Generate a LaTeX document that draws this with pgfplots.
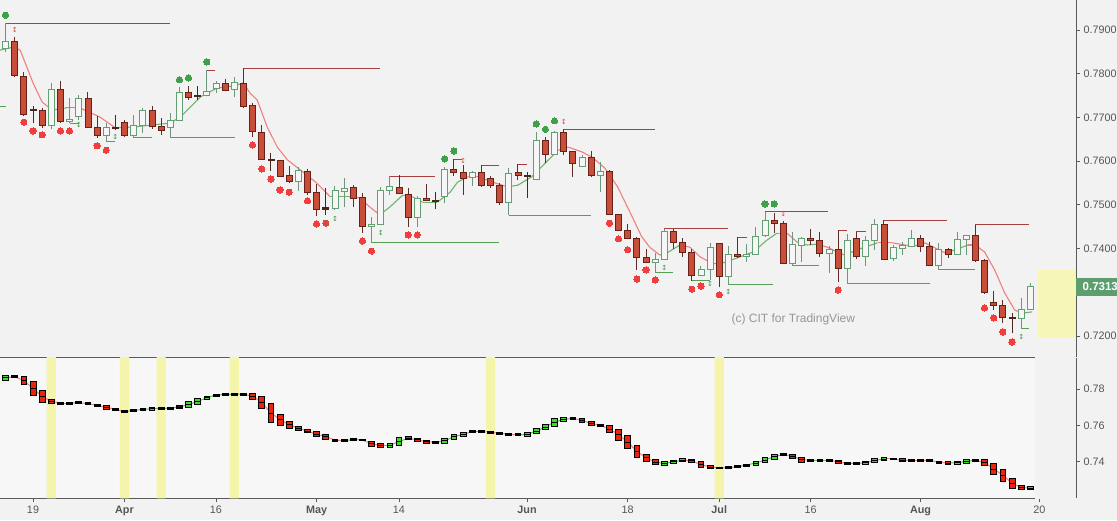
\documentclass[border=0pt]{standalone}
\usepackage{pgfplots}
\pgfplotsset{compat=1.18}
\usepackage{pgfplotstable}
\usepackage{fontspec}
\setmainfont{Liberation Sans}
\newfontfamily\dejavu{DejaVu Sans}

\definecolor{bgM}{RGB}{242,242,242}
\definecolor{bgB}{RGB}{247,247,247}
\definecolor{rfl}{RGB}{200,78,58}
\definecolor{rbd}{RGB}{105,32,22}
\definecolor{rwk}{RGB}{95,45,38}
\definecolor{wfl}{RGB}{246,246,246}
\definecolor{wbd}{RGB}{100,158,115}
\definecolor{wwk}{RGB}{110,150,122}
\definecolor{dk}{RGB}{75,38,32}
\definecolor{mar}{RGB}{240,128,128}
\definecolor{mag}{RGB}{110,180,110}
\definecolor{res}{RGB}{165,65,65}
\definecolor{sup}{RGB}{85,160,85}
\definecolor{rdot}{RGB}{238,62,62}
\definecolor{gdot}{RGB}{62,160,72}
\definecolor{ybox}{RGB}{246,246,182}
\definecolor{yband}{RGB}{244,244,170}
\definecolor{bred}{RGB}{236,36,14}
\definecolor{bgrn}{RGB}{60,220,40}
\definecolor{bblk}{RGB}{25,25,25}
\definecolor{axc}{RGB}{90,90,90}
\definecolor{tkc}{RGB}{85,85,85}
\definecolor{wmc}{RGB}{150,150,150}
\definecolor{pgr}{RGB}{92,158,110}
\definecolor{rmk}{RGB}{220,70,70}
\definecolor{gmk}{RGB}{60,150,70}

\pgfdeclareplotmark{cbody}{%
  \pgfmathsetmacro\bh{max(\hh,0.6)}%
  \pgfmathsetmacro\bhh{2*\bh}%
  \pgfpathrectangle{\pgfqpoint{-3pt}{-\bh pt}}{\pgfqpoint{6pt}{\bhh pt}}%
  \pgfusepathqfillstroke}
\pgfdeclareplotmark{bbox}{%
  \pgfmathsetmacro\bh{max(\hh,0.9)}%
  \pgfmathsetmacro\bhh{2*\bh}%
  \pgfpathrectangle{\pgfqpoint{-2.9pt}{-\bh pt}}{\pgfqpoint{5.8pt}{\bhh pt}}%
  \pgfusepathqfillstroke
  \pgfpathmoveto{\pgfqpoint{-2.9pt}{0pt}}\pgfpathlineto{\pgfqpoint{2.9pt}{0pt}}%
  \pgfusepathqstroke}

% ---------- main candles: i open high low close ----------
\pgfplotstableread{
i o h l c
-2 0.7875 0.7883 0.7793 0.7795
-1 0.7795 0.7805 0.7703 0.7707
1 0.7717 0.7721 0.7675 0.7681
3 0.7764 0.7783 0.7688 0.7691
6 0.7744 0.7757 0.7675 0.7677
7 0.7677 0.7703 0.7654 0.7658
10 0.7688 0.7694 0.7656 0.7658
13 0.7715 0.7726 0.7674 0.7679
14 0.7680 0.7698 0.7660 0.7670
17 0.7757 0.7772 0.7740 0.7747
21 0.7778 0.7789 0.7760 0.7763
23 0.7779 0.7813 0.7721 0.7726
24 0.7728 0.7733 0.7655 0.7667
25 0.7666 0.7683 0.7603 0.7604
27 0.7602 0.7603 0.7564 0.7566
28 0.7567 0.7589 0.7549 0.7553
30 0.7577 0.7581 0.7522 0.7529
31 0.7529 0.7548 0.7475 0.7490
35 0.7541 0.7545 0.7496 0.7515
36 0.7516 0.7526 0.7436 0.7451
40 0.7540 0.7568 0.7524 0.7525
41 0.7524 0.7538 0.7450 0.7471
43 0.7515 0.7548 0.7508 0.7510
46 0.7580 0.7604 0.7566 0.7574
47 0.7574 0.7591 0.7522 0.7560
49 0.7574 0.7590 0.7541 0.7544
50 0.7560 0.7565 0.7539 0.7544
51 0.7545 0.7549 0.7500 0.7505
53 0.7574 0.7593 0.7557 0.7567
56 0.7648 0.7655 0.7595 0.7616
58 0.7666 0.7673 0.7614 0.7622
59 0.7622 0.7623 0.7563 0.7595
61 0.7609 0.7624 0.7563 0.7567
63 0.7577 0.7580 0.7476 0.7478
64 0.7478 0.7480 0.7441 0.7442
65 0.7442 0.7456 0.7421 0.7423
66 0.7423 0.7426 0.7351 0.7380
67 0.7380 0.7400 0.7366 0.7368
70 0.7440 0.7444 0.7400 0.7413
71 0.7415 0.7423 0.7381 0.7390
72 0.7392 0.7400 0.7326 0.7338
75 0.7412 0.7413 0.7313 0.7337
77 0.7387 0.7426 0.7378 0.7382
81 0.7464 0.7481 0.7435 0.7458
82 0.7458 0.7464 0.7364 0.7366
85 0.7423 0.7444 0.7408 0.7418
86 0.7418 0.7438 0.7381 0.7389
88 0.7398 0.7442 0.7324 0.7355
90 0.7423 0.7438 0.7375 0.7383
93 0.7455 0.7465 0.7374 0.7376
97 0.7423 0.7430 0.7393 0.7404
98 0.7404 0.7415 0.7360 0.7362
100 0.7398 0.7402 0.7378 0.7387
103 0.7429 0.7454 0.7370 0.7374
104 0.7374 0.7375 0.7297 0.7300
105 0.7277 0.7303 0.7259 0.7270
106 0.7270 0.7282 0.7229 0.7243
}\tR
\pgfplotstableread{
i o h l c
-3 0.7858 0.7915 0.7850 0.7873
2 0.7681 0.7778 0.7673 0.7764
4 0.7690 0.7744 0.7687 0.7696
5 0.7702 0.7751 0.7694 0.7744
8 0.7658 0.7688 0.7644 0.7677
11 0.7658 0.7705 0.7653 0.7682
12 0.7681 0.7721 0.7664 0.7715
15 0.7677 0.7709 0.7653 0.7693
16 0.7693 0.7769 0.7691 0.7757
19 0.7750 0.7808 0.7748 0.7760
20 0.7767 0.7783 0.7755 0.7778
22 0.7763 0.7793 0.7746 0.7779
29 0.7553 0.7586 0.7532 0.7578
33 0.7492 0.7543 0.7488 0.7532
34 0.7531 0.7562 0.7496 0.7538
37 0.7451 0.7473 0.7413 0.7456
38 0.7456 0.7541 0.7455 0.7532
39 0.7532 0.7566 0.7522 0.7543
42 0.7471 0.7520 0.7450 0.7515
45 0.7519 0.7587 0.7505 0.7580
48 0.7562 0.7578 0.7543 0.7574
52 0.7505 0.7584 0.7476 0.7573
55 0.7558 0.7666 0.7556 0.7648
57 0.7616 0.7669 0.7614 0.7666
60 0.7589 0.7614 0.7587 0.7609
62 0.7567 0.7599 0.7530 0.7577
68 0.7368 0.7389 0.7346 0.7376
69 0.7375 0.7445 0.7374 0.7440
73 0.7338 0.7360 0.7336 0.7352
74 0.7352 0.7412 0.7328 0.7403
76 0.7337 0.7406 0.7317 0.7387
78 0.7382 0.7410 0.7370 0.7387
79 0.7387 0.7449 0.7386 0.7427
80 0.7430 0.7484 0.7427 0.7464
83 0.7366 0.7438 0.7362 0.7410
84 0.7408 0.7426 0.7370 0.7423
87 0.7389 0.7405 0.7344 0.7398
89 0.7355 0.7433 0.7319 0.7418
91 0.7383 0.7429 0.7361 0.7418
92 0.7418 0.7467 0.7397 0.7455
94 0.7377 0.7408 0.7372 0.7403
95 0.7400 0.7416 0.7385 0.7406
96 0.7406 0.7442 0.7405 0.7423
99 0.7362 0.7412 0.7351 0.7398
101 0.7387 0.7438 0.7385 0.7421
102 0.7421 0.7432 0.7385 0.7429
108 0.7240 0.7287 0.7216 0.7261
109 0.7261 0.7322 0.7260 0.7313
}\tW
\pgfplotstableread{
i o h l c
0 0.7719 0.7726 0.7688 0.7717
9 0.7676 0.7705 0.7671 0.7677
18 0.7750 0.7772 0.7740 0.7749
26 0.7603 0.7619 0.7577 0.7603
32 0.7490 0.7538 0.7477 0.7493
44 0.7510 0.7530 0.7490 0.7509
54 0.7566 0.7575 0.7516 0.7565
107 0.7243 0.7253 0.7206 0.7241
}\tD

% ---------- smoothed line on price panel ----------
\pgfplotstableread{
i v m
-3.6 0.7854 1
-2.1 0.7861 0
-1.4 0.7854 0
0 0.7779 0
1 0.7735 0
2.1 0.7717 1
3.7 0.7722 1
5.1 0.7722 0
7.3 0.7701 0
9 0.7676 0
10.9 0.7678 1
15 0.7687 1
16.1 0.7701 1
18.3 0.7747 1
20.1 0.7767 1
21.9 0.7772 1
23 0.7779 0
23.7 0.7756 0
24.5 0.7740 0
25.6 0.7678 0
26.7 0.7632 0
27.8 0.7603 0
29.2 0.7580 0
31 0.7550 0
32.5 0.7518 1
34.6 0.7518 0
35.7 0.7516 0
36.8 0.7495 0
37.9 0.7477 1
39 0.7495 1
40.4 0.7522 0
41.5 0.7518 0
42.6 0.7506 1
44.2 0.7506 1
45.6 0.7529 1
46.4 0.7552 1
47.5 0.7564 0
48.6 0.7564 0
50.5 0.7550 0
51.9 0.7541 1
53 0.7545 1
54.5 0.7564 1
56 0.7596 1
57.4 0.7625 0
58.5 0.7632 0
60 0.7621 0
61.1 0.7609 0
62.5 0.7584 0
63.9 0.7541 0
65.5 0.7472 0
66.5 0.7428 0
67.4 0.7403 0
68.5 0.7385 1
69.3 0.7390 1
70.7 0.7408 0
71.8 0.7403 0
72.9 0.7381 0
74.3 0.7365 1
75.4 0.7367 1
76.9 0.7378 1
78.7 0.7392 1
80.2 0.7419 1
81.3 0.7435 0
82.4 0.7435 0
83.5 0.7415 1
84.6 0.7408 1
85.7 0.7410 0
86.8 0.7403 0
87.9 0.7392 0
88.7 0.7385 1
90.6 0.7401 1
92.3 0.7413 0
93.9 0.7413 0
95.3 0.7408 0
96.4 0.7406 0
97.5 0.7413 0
98.6 0.7401 0
99.7 0.7390 1
100.8 0.7397 1
102.2 0.7408 0
103 0.7408 0
104 0.7392 0
105.1 0.7351 0
106.2 0.7298 0
107.3 0.7259 0
108.1 0.7252 1
109.2 0.7255 1
}\tMA

% ---------- resistance / support levels ----------
\pgfplotstableread{
x y
-3 0.7915
15.0 0.7915
nan nan
19 0.7808
19.9 0.7808
nan nan
23 0.7813
37.9 0.7813
nan nan
39 0.7566
43.9 0.7566
nan nan
46 0.7604
46.9 0.7604
nan nan
49 0.7590
50.9 0.7590
nan nan
53 0.7593
54.0 0.7593
nan nan
58 0.7673
68.0 0.7673
nan nan
69 0.7445
76.0 0.7445
nan nan
77 0.7426
78.0 0.7426
nan nan
80 0.7484
86.9 0.7484
nan nan
88 0.7442
89.0 0.7442
nan nan
90 0.7438
91.0 0.7438
nan nan
93 0.7465
99.9 0.7465
nan nan
103 0.7454
108.9 0.7454
}\tRes
\pgfplotstableread{
x y
-3.7 0.7724
-3 0.7724
nan nan
4 0.7687
5 0.7687
nan nan
8 0.7644
9 0.7644
nan nan
11 0.7653
13 0.7653
nan nan
15 0.7653
22.1 0.7653
nan nan
37 0.7413
50.9 0.7413
nan nan
52 0.7476
61.0 0.7476
nan nan
68 0.7346
70.0 0.7346
nan nan
72 0.7326
74.0 0.7326
nan nan
76 0.7317
80.9 0.7317
nan nan
83 0.7362
85.9 0.7362
nan nan
89 0.7319
98.0 0.7319
nan nan
99 0.7351
102.9 0.7351
nan nan
108 0.7216
108.9 0.7216
}\tSup

\pgfplotstableread{
i v
-1 0.7689
0 0.7669
1 0.7660
3 0.7669
4 0.7669
7 0.7635
8 0.7625
24 0.7637
25 0.7582
26 0.7559
27 0.7534
28 0.7529
30 0.7509
31 0.7456
32 0.7458
36 0.7417
37 0.7394
41 0.7431
42 0.7431
63 0.7458
64 0.7422
65 0.7397
66 0.7330
67 0.7351
68 0.7328
72 0.7307
73 0.7314
75 0.7294
88 0.7305
104 0.7264
105 0.7241
106 0.7209
107 0.7186
}\tRdot
\pgfplotstableread{
i v
-3 0.7934
16 0.7786
17 0.7790
19 0.7827
45 0.7605
46 0.7623
55 0.7685
56 0.7673
57 0.7692
80 0.7502
81 0.7502
}\tGdot
\pgfplotstableread{
i v
-2 0.7900
47 0.7600
58 0.7690
82 0.7479
}\tRmk
\pgfplotstableread{
i v
5 0.7683
9 0.7655
32 0.7459
33 0.7468
38 0.7435
69 0.7355
74 0.7319
76 0.7300
108 0.7198
}\tGmk

% ---------- lower panel ----------
\pgfplotstableread{
i v m
-3 0.7862 1
-2 0.7868 0
-1 0.7846 0
0 0.7804 0
1 0.7758 0
2 0.7732 0
3 0.7723 0
4 0.7723 1
5 0.7725 0
6 0.7719 0
7 0.7710 0
8 0.7698 0
9 0.7688 0
10 0.7676 1
11 0.7682 1
12 0.7688 1
13 0.7691 1
14 0.7693 1
15 0.7695 1
16 0.7701 1
17 0.7715 1
18 0.7731 1
19 0.7752 1
20 0.7767 1
21 0.7770 1
22 0.7771 1
23 0.7772 0
24 0.7760 0
25 0.7727 0
26 0.7668 0
27 0.7632 0
28 0.7603 0
29 0.7584 0
30 0.7568 0
31 0.7551 0
32 0.7538 0
33 0.7519 0
34 0.7515 1
35 0.7522 0
36 0.7520 0
37 0.7498 0
38 0.7490 0
39 0.7490 1
40 0.7511 1
41 0.7529 0
42 0.7520 0
43 0.7510 0
44 0.7507 1
45 0.7515 1
46 0.7538 1
47 0.7550 1
48 0.7566 1
49 0.7566 0
50 0.7562 0
51 0.7557 0
52 0.7551 0
53 0.7548 1
54 0.7550 1
55 0.7569 1
56 0.7591 1
57 0.7618 1
58 0.7633 1
59 0.7638 0
60 0.7628 0
61 0.7610 0
62 0.7600 0
63 0.7580 0
64 0.7549 0
65 0.7508 0
66 0.7457 0
67 0.7421 0
68 0.7398 0
69 0.7391 1
70 0.7400 1
71 0.7408 0
72 0.7405 0
73 0.7384 0
74 0.7371 0
75 0.7366 1
76 0.7367 1
77 0.7372 1
78 0.7382 1
79 0.7393 1
80 0.7409 1
81 0.7428 1
82 0.7440 0
83 0.7430 0
84 0.7412 0
85 0.7407 1
86 0.7408 1
87 0.7408 0
88 0.7399 0
89 0.7391 0
90 0.7390 1
91 0.7394 1
92 0.7407 1
93 0.7415 0
94 0.7415 0
95 0.7408 0
96 0.7408 0
97 0.7408 0
98 0.7408 0
99 0.7397 0
100 0.7393 1
101 0.7394 1
102 0.7402 1
103 0.7408 0
104 0.7395 0
105 0.7360 0
106 0.7326 0
107 0.7281 0
108 0.7259 0
109 0.7254 1
}\tL
\pgfplotstableread{
i v h
-1 0.7846 0.0046
0 0.7804 0.0073
1 0.7758 0.0066
2 0.7732 0.0022
6 0.7719 0.0010
7 0.7710 0.0015
8 0.7698 0.0020
9 0.7688 0.0011
24 0.7760 0.0033
25 0.7727 0.0062
26 0.7668 0.0108
27 0.7632 0.0061
28 0.7603 0.0037
29 0.7584 0.0025
30 0.7568 0.0017
31 0.7551 0.0028
32 0.7538 0.0026
33 0.7519 0.0012
37 0.7498 0.0029
38 0.7490 0.0018
41 0.7529 0.0018
42 0.7520 0.0015
43 0.7510 0.0018
50 0.7562 0.0010
51 0.7557 0.0013
60 0.7628 0.0022
61 0.7610 0.0020
62 0.7600 0.0015
63 0.7580 0.0035
64 0.7549 0.0059
65 0.7508 0.0073
66 0.7457 0.0066
67 0.7421 0.0042
68 0.7398 0.0031
72 0.7405 0.0018
73 0.7384 0.0031
74 0.7371 0.0017
82 0.7440 0.0013
83 0.7430 0.0024
84 0.7412 0.0028
88 0.7399 0.0017
89 0.7391 0.0011
95 0.7408 0.0017
100 0.7393 0.0015
104 0.7395 0.0035
105 0.7360 0.0059
106 0.7326 0.0068
107 0.7281 0.0055
108 0.7259 0.0018
}\bR
\pgfplotstableread{
i v h
-3 0.7862 0.0024
13 0.7691 0.0013
17 0.7715 0.0031
18 0.7731 0.0035
19 0.7752 0.0018
39 0.7490 0.0022
40 0.7511 0.0040
45 0.7515 0.0028
46 0.7538 0.0026
47 0.7550 0.0024
48 0.7566 0.0011
54 0.7550 0.0017
55 0.7569 0.0029
56 0.7591 0.0031
57 0.7618 0.0042
58 0.7633 0.0018
69 0.7391 0.0018
70 0.7400 0.0018
71 0.7408 0.0015
79 0.7393 0.0022
80 0.7409 0.0026
81 0.7428 0.0028
91 0.7394 0.0018
92 0.7407 0.0020
93 0.7415 0.0013
101 0.7394 0.0018
102 0.7402 0.0018
109 0.7254 0.0017
}\bG
\pgfplotstableread{
i v h
-2 0.7868 0.0010
3 0.7723 0.0010
4 0.7723 0.0010
5 0.7725 0.0010
10 0.7676 0.0010
11 0.7682 0.0010
12 0.7688 0.0010
14 0.7693 0.0010
15 0.7695 0.0010
16 0.7701 0.0017
20 0.7767 0.0012
21 0.7770 0.0010
22 0.7771 0.0010
23 0.7772 0.0010
34 0.7515 0.0012
35 0.7522 0.0010
36 0.7520 0.0010
44 0.7507 0.0012
49 0.7566 0.0010
52 0.7551 0.0010
53 0.7548 0.0010
59 0.7638 0.0010
75 0.7366 0.0010
76 0.7367 0.0010
77 0.7372 0.0010
78 0.7382 0.0011
85 0.7407 0.0012
86 0.7408 0.0010
87 0.7408 0.0010
90 0.7390 0.0010
94 0.7415 0.0010
96 0.7408 0.0010
97 0.7408 0.0010
98 0.7408 0.0010
99 0.7397 0.0012
103 0.7408 0.0010
}\bK

\pgfplotsset{
  chartbase/.style={
    scale only axis, width=1076pt,
    xmin=-3.607, xmax=113.99,
    axis x line*=bottom, axis y line*=right,
    axis line style={-, draw=axc, line width=0.8pt},
    tick align=outside, major tick length=4pt,
    tick style={draw=axc, line width=0.8pt},
    scaled y ticks=false,
    /pgf/number format/assume math mode=true,
    yticklabel style={font=\fontsize{10.8}{13}\selectfont, text=tkc},
    xticklabel style={font=\fontsize{10.8}{13}\selectfont, text=tkc},
    clip=true,
  },
}

\begin{document}
\begin{tikzpicture}
\useasboundingbox (0,0) rectangle (1117pt,520pt);
\fill[bgM] (0,0) rectangle (1117pt,520pt);
\clip (0,0) rectangle (1117pt,520pt);

% ================= price panel =================
\begin{axis}[chartbase,
  at={(0pt,163pt)}, anchor=south west, height=357pt,
  ymin=0.715172, ymax=0.796865,
  xtick=\empty,
  ytick={0.72,0.74,0.75,0.76,0.77,0.78,0.79},
  yticklabel style={/pgf/number format/fixed, /pgf/number format/fixed zerofill, /pgf/number format/precision=4},
  extra y ticks={0.7313}, extra y tick labels={0.7313},
  extra y tick style={major tick length=0pt,
     yticklabel style={fill=pgr, text=white, font=\bfseries\fontsize{11.5}{13}\selectfont,
       inner xsep=6.5pt, minimum height=18pt}},
  axis background/.style={fill=bgM},
]
\addplot[fill=ybox, draw=none] coordinates {(109.8,0.7195)(115,0.7195)(115,0.7351)(109.8,0.7351)};
\addplot[res, line width=0.9pt, unbounded coords=jump] table[x=x,y=y] {\tRes};
\addplot[sup, line width=0.9pt, unbounded coords=jump] table[x=x,y=y] {\tSup};
\addplot[mesh, shader=flat corner, point meta=\thisrow{m}, point meta min=0, point meta max=1,
  colormap={ma}{color=(mar) color=(mag)}, line width=1.1pt] table[x=i,y=v] {\tMA};
% wicks
\addplot[rwk, line width=0.9pt, mark=none, quiver={u=0, v={\thisrow{h}-\thisrow{l}}}] table[x=i,y=l] {\tR};
\addplot[wwk, line width=0.9pt, mark=none, quiver={u=0, v={\thisrow{h}-\thisrow{l}}}] table[x=i,y=l] {\tW};
\addplot[dk, line width=0.9pt, mark=none, quiver={u=0, v={\thisrow{h}-\thisrow{l}}}] table[x=i,y=l] {\tD};
% bodies
\addplot[scatter, only marks, mark=cbody,
  scatter/use mapped color={draw=rbd, fill=rfl, line width=0.8pt},
  visualization depends on={abs(\thisrow{c}-\thisrow{o})*2185 \as \hh}]
  table[x=i, y expr={(\thisrow{o}+\thisrow{c})/2}] {\tR};
\addplot[scatter, only marks, mark=cbody,
  scatter/use mapped color={draw=wbd, fill=wfl, line width=0.8pt},
  visualization depends on={abs(\thisrow{c}-\thisrow{o})*2185 \as \hh}]
  table[x=i, y expr={(\thisrow{o}+\thisrow{c})/2}] {\tW};
\addplot[scatter, only marks, mark=cbody,
  scatter/use mapped color={draw=dk, fill=dk, line width=0.8pt},
  visualization depends on={abs(\thisrow{c}-\thisrow{o})*2185 \as \hh}]
  table[x=i, y expr={(\thisrow{o}+\thisrow{c})/2}] {\tD};
% dots
\addplot[only marks, mark=*, mark size=3.1pt, mark options={draw=rdot, fill=rdot, line width=0pt}] table[x=i,y=v] {\tRdot};
\addplot[only marks, mark=*, mark size=3.1pt, mark options={draw=gdot, fill=gdot, line width=0pt}] table[x=i,y=v] {\tGdot};
% small pivot markers
\addplot[only marks, mark=text, text mark={\textcolor{rmk}{\dejavu\fontsize{7}{7}\selectfont ↕}}] table[x=i,y=v] {\tRmk};
\addplot[only marks, mark=text, text mark={\textcolor{gmk}{\dejavu\fontsize{7}{7}\selectfont ↕}}] table[x=i,y=v] {\tGmk};
\node[text=wmc, font=\fontsize{12}{14}\selectfont] at (axis cs:83.1,0.7237) {(c) CIT for TradingView};
\end{axis}

% ================= lower panel =================
\begin{axis}[chartbase,
  at={(0pt,21.7pt)}, anchor=south west, height=140.6pt,
  ymin=0.71986, ymax=0.79723,
  xtick={0,10,20,31,40,54,65,75,85,97,110},
  xticklabels={19,\textbf{Apr},16,\textbf{May},14,\textbf{Jun},18,\textbf{Jul},16,\textbf{Aug},20},
  ytick={0.74,0.76,0.78},
  yticklabel style={/pgf/number format/fixed, /pgf/number format/fixed zerofill, /pgf/number format/precision=2},
  axis background/.style={fill=bgB},
]
\addplot[fill=bgM, draw=none] coordinates {(109.5,0.70)(115,0.70)(115,0.80)(109.5,0.80)};
\addplot[ybar, bar width=1, bar shift=0pt, fill=yband, draw=none] coordinates {(2,0.80)(10,0.80)(14,0.80)(22,0.80)(50,0.80)(75,0.80)};
\addplot[mesh, shader=flat corner, point meta=\thisrow{m}, point meta min=0, point meta max=1,
  colormap={lo}{color=(mar) color=(mag)}, line width=1pt] table[x=i,y=v] {\tL};
\addplot[scatter, only marks, mark=bbox,
  scatter/use mapped color={draw=black, fill=bred, line width=0.8pt},
  visualization depends on={\thisrow{h}*908.6 \as \hh}] table[x=i,y=v] {\bR};
\addplot[scatter, only marks, mark=bbox,
  scatter/use mapped color={draw=black, fill=bgrn, line width=0.8pt},
  visualization depends on={\thisrow{h}*908.6 \as \hh}] table[x=i,y=v] {\bG};
\addplot[scatter, only marks, mark=bbox,
  scatter/use mapped color={draw=black, fill=bblk, line width=0.8pt},
  visualization depends on={\thisrow{h}*908.6 \as \hh}] table[x=i,y=v] {\bK};
\end{axis}
\end{tikzpicture}
\end{document}
